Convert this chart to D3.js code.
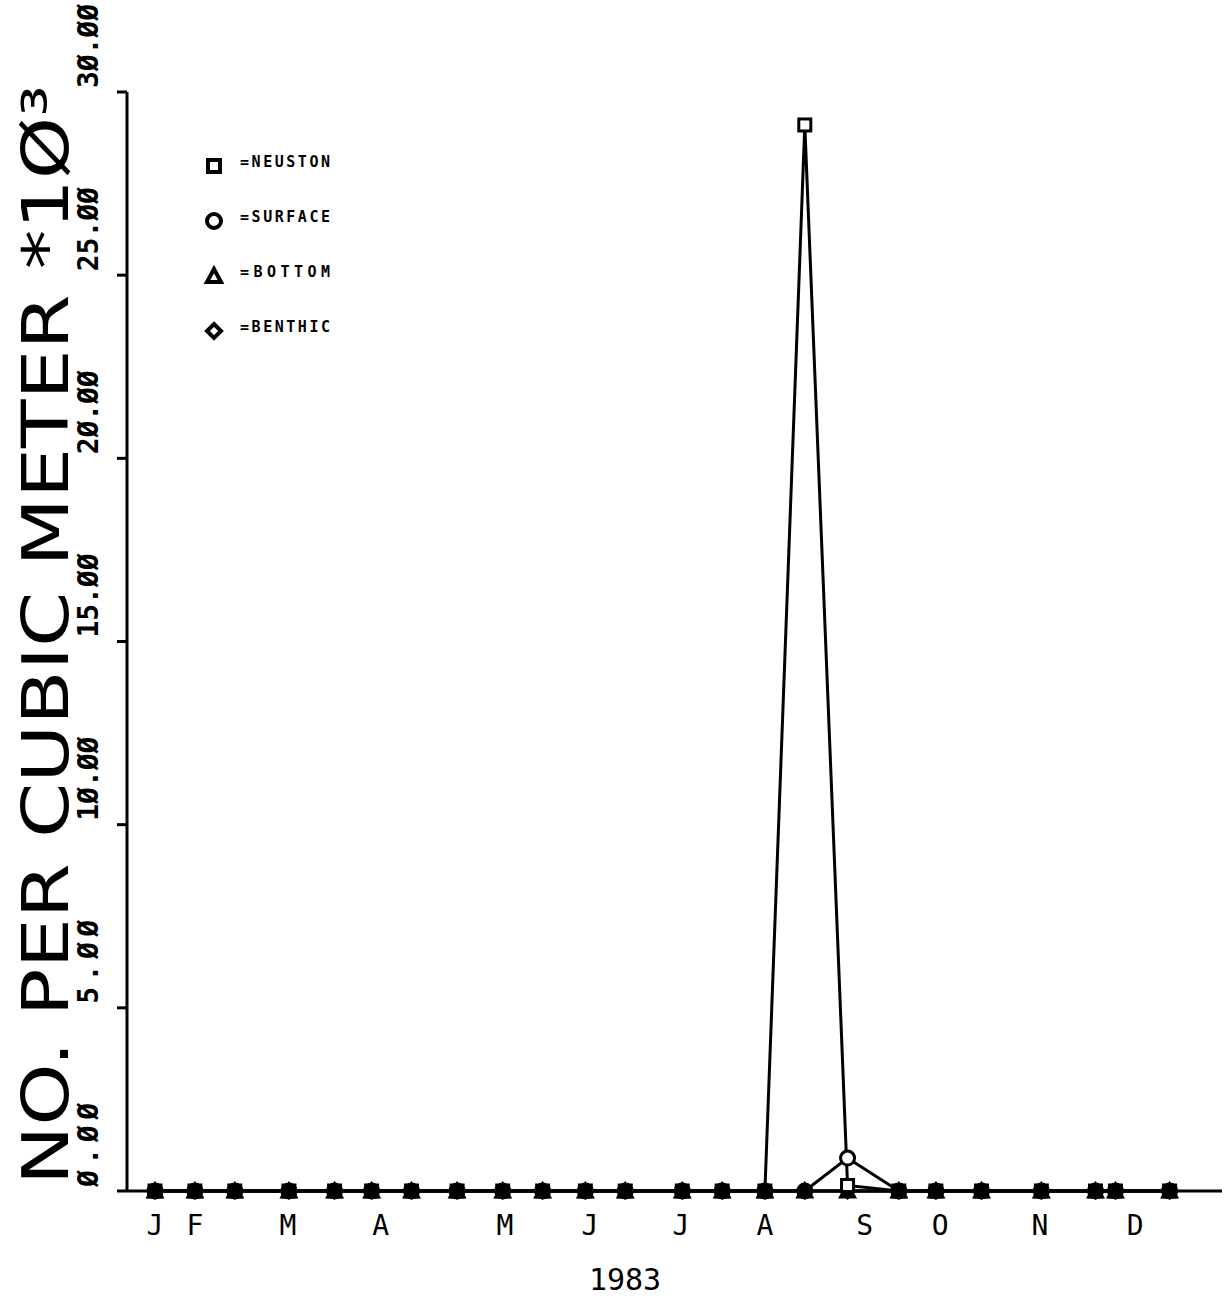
<!DOCTYPE html>
<html><head><meta charset="utf-8">
<script src="https://cdn.jsdelivr.net/npm/d3@7"></script>
<style>body{margin:0;background:#fff}</style>
</head><body>
<script>
// sampling dates as day of year 1983
const days = [12, 26, 40, 59, 75, 88, 102, 118, 134, 148, 163, 177, 197, 211, 226, 240, 255, 273, 286, 302, 323, 342, 349, 368];
const neuston = [0,0,0,0,0,0,0,0,0,0,0,0,0,0,0,29.1,0.15,0,0,0,0,0,0,0];
const surface = [0,0,0,0,0,0,0,0,0,0,0,0,0,0,0,0,0.9,0,0,0,0,0,0,0];
const bottom  = [0,0,0,0,0,0,0,0,0,0,0,0,0,0,0,0,0,0,0,0,0,0,0,0];
const benthic = [0,0,0,0,0,0,0,0,0,0,0,0,0,0,0,0,0,0,0,0,0,0,0,0];
const months = ["J","F","M","A","M","J","J","A","S","O","N","D"];
const monthMid = [12, 26, 58.6, 91.2, 134.8, 164.6, 196.5, 226, 261, 287.5, 322.5, 355.9];
const yTicks = [0,5,10,15,20,25,30];
const legend = ["=NEUSTON","=SURFACE","=BOTTOM","=BENTHIC"];

const svg = d3.select("body").append("svg").attr("width",1229).attr("height",1301);
const x = d3.scaleLinear().domain([12, 368]).range([155, 155 + 356*2.85]);
const y = d3.scaleLinear().domain([0,30]).range([1191, 92]);
const font = "DejaVu Sans Mono, monospace";

// axes
svg.append("line").attr("x1",127).attr("x2",127).attr("y1",y(30)).attr("y2",y(0)).attr("stroke","#000").attr("stroke-width",3);
svg.append("line").attr("x1",127).attr("x2",1222).attr("y1",y(0)).attr("y2",y(0)).attr("stroke","#000").attr("stroke-width",3);
yTicks.forEach(t=>{
  svg.append("line").attr("x1",117).attr("x2",127).attr("y1",y(t)).attr("y2",y(t)).attr("stroke","#000").attr("stroke-width",3);
  svg.append("text").attr("transform",`translate(98,${y(t)-4}) rotate(-90)`).attr("text-anchor","start")
    .attr("font-family",font).attr("font-weight","bold").attr("font-size",28).attr("textLength",84)
    .text(t.toFixed(2).replace(/0/g,"Ø"));
});
svg.append("text").attr("transform",`translate(68,${(1190+80)/2}) rotate(-90)`).attr("text-anchor","middle")
  .attr("font-family","DejaVu Sans, sans-serif").attr("font-size",64).attr("textLength",1100)
  .attr("lengthAdjust","spacingAndGlyphs")
  .text("NO.  PER CUBIC METER *1Ø³");

months.forEach((m,i)=>{
  svg.append("text").attr("x",x(monthMid[i])).attr("y",1235).attr("text-anchor","middle")
    .attr("font-family",font).attr("font-size",28).text(m);
});
svg.append("text").attr("x",625).attr("y",1290).attr("text-anchor","middle").attr("font-family",font).attr("font-size",30).text("1983");

const line = d3.line().x((d,i)=>x(days[i])).y(d=>y(d));
[benthic,bottom,surface,neuston].forEach(s=>{
  svg.append("path").datum(s).attr("d",line).attr("fill","none").attr("stroke","#000").attr("stroke-width",3);
});

function marker(g, type, cx, cy, filled, sw){
  const f = filled ? "#000" : "#fff";
  sw = sw || 3;
  if(type===0) g.append("rect").attr("x",cx-6).attr("y",cy-6).attr("width",12).attr("height",12).attr("fill",f).attr("stroke","#000").attr("stroke-width",sw);
  if(type===1) g.append("circle").attr("cx",cx).attr("cy",cy).attr("r",7).attr("fill",f).attr("stroke","#000").attr("stroke-width",sw);
  if(type===2) g.append("path").attr("d",`M${cx},${cy-7}L${cx+7},${cy+6}L${cx-7},${cy+6}Z`).attr("fill",f).attr("stroke","#000").attr("stroke-width",sw);
  if(type===3) g.append("path").attr("d",`M${cx},${cy-7}L${cx+7},${cy}L${cx},${cy+7}L${cx-7},${cy}Z`).attr("fill",f).attr("stroke","#000").attr("stroke-width",sw);
}
const g = svg.append("g");
[benthic,bottom,surface,neuston].forEach((s,k)=>{
  s.forEach((v,i)=>marker(g, 3-k, x(days[i]), y(v), v===0));
});

legend.forEach((l,i)=>{
  const ly = 166 + i*55;
  marker(svg, i, 214, ly, false, 4);
  svg.append("text").attr("x",240).attr("y",ly+1).attr("font-family",font).attr("font-weight","bold")
    .attr("font-size",15).attr("textLength",90).text(l);
});
</script>
</body></html>
